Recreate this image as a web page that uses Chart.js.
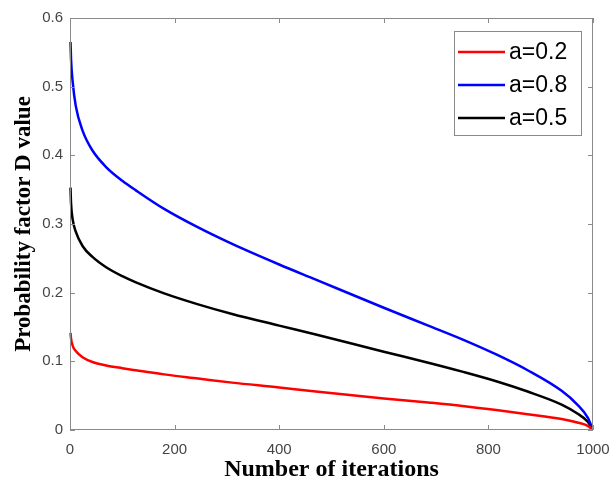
<!DOCTYPE html>
<html>
<head>
<meta charset="utf-8">
<script src="https://cdn.jsdelivr.net/npm/chart.js@4.4.1/dist/chart.umd.min.js"></script>
<style>
  html, body { margin: 0; padding: 0; background: #fff; }
</style>
</head>
<body>
<canvas id="chart1" width="611" height="485"></canvas>
<script>
// Values
const iterations = [1, 2, 5, 11, 24, 43, 69, 100, 126, 180, 245, 310, 400, 470, 600, 685, 750, 815, 875, 940, 970, 990, 1000]
const dA02 = [0.1415, 0.133, 0.123, 0.115, 0.106, 0.099, 0.094, 0.090, 0.087, 0.081, 0.075, 0.069, 0.062, 0.056, 0.046, 0.040, 0.035, 0.029, 0.023, 0.016, 0.011, 0.006, 0]
const dA08 = [0.565, 0.540, 0.508, 0.472, 0.436, 0.407, 0.383, 0.363, 0.349, 0.322, 0.295, 0.271, 0.241, 0.219, 0.178, 0.152, 0.132, 0.110, 0.087, 0.057, 0.037, 0.018, 0]
const dA05 = [0.353, 0.330, 0.307, 0.289, 0.268, 0.252, 0.237, 0.224, 0.215, 0.199, 0.183, 0.169, 0.152, 0.139, 0.114, 0.098, 0.085, 0.071, 0.056, 0.037, 0.024, 0.012, 0]
const seriesLabels = ['a=0.2', 'a=0.8', 'a=0.5']
const xTickStep = 200
const yTickStep = 0.1

function toPoints(values) {
    return iterations.map((x, i) => ({ x: x, y: values[i] }))
}

function makeSet(label, values, color) {
    return {
        label: label,
        data: toPoints(values),
        borderColor: color,
        backgroundColor: color,
        borderWidth: 2.5,
        pointRadius: 0,
        cubicInterpolationMode: 'monotone',
        clip: false
    }
}

// MATLAB style box with inward ticks on all four sides
const axesBox = {
    id: 'axesBox',
    afterDatasetsDraw(chart) {
        const { ctx, chartArea: a, scales } = chart
        ctx.save()
        ctx.strokeStyle = '#8a8a8a'
        ctx.lineWidth = 1
        ctx.strokeRect(a.left + 0.5, a.top + 0.5, a.right - a.left - 1, a.bottom - a.top - 1)
        ctx.beginPath()
        scales.x.ticks.forEach(t => {
            const px = Math.round(scales.x.getPixelForValue(t.value)) + 0.5
            ctx.moveTo(px, a.bottom); ctx.lineTo(px, a.bottom - 5)
            ctx.moveTo(px, a.top); ctx.lineTo(px, a.top + 5)
        })
        scales.y.ticks.forEach(t => {
            const py = Math.round(scales.y.getPixelForValue(t.value)) + 0.5
            ctx.moveTo(a.left, py); ctx.lineTo(a.left + 5, py)
            ctx.moveTo(a.right, py); ctx.lineTo(a.right - 5, py)
        })
        ctx.stroke()
        ctx.restore()
    }
}

// Legend box in the top right corner of the plot
const boxLegend = {
    id: 'boxLegend',
    afterDraw(chart) {
        const { ctx, chartArea: a } = chart
        const w = 127, h = 104
        const left = a.right - 139, top = a.top + 13
        ctx.save()
        ctx.fillStyle = '#fff'
        ctx.fillRect(left, top, w, h)
        ctx.strokeStyle = '#8a8a8a'
        ctx.lineWidth = 1
        ctx.strokeRect(left + 0.5, top + 0.5, w, h)
        ctx.font = '23px "Liberation Sans", Arial, sans-serif'
        ctx.textBaseline = 'middle'
        chart.data.datasets.forEach((ds, i) => {
            const yy = top + 21 + i * 33
            ctx.strokeStyle = ds.borderColor
            ctx.lineWidth = 2.5
            ctx.beginPath()
            ctx.moveTo(left + 4, yy)
            ctx.lineTo(left + 51, yy)
            ctx.stroke()
            ctx.fillStyle = '#000'
            ctx.fillText(ds.label, left + 55, yy + 1)
        })
        ctx.restore()
    }
}

const ctx = document.getElementById('chart1').getContext('2d')

const chart1 = new Chart(ctx, {
    type: 'line',
    data: {
        datasets: [
            makeSet(seriesLabels[0], dA02, '#ff0000'),
            makeSet(seriesLabels[1], dA08, '#0000ff'),
            makeSet(seriesLabels[2], dA05, '#000000')
        ]
    },
    options: {
        responsive: false,
        animation: false,
        layout: { padding: { top: 18, right: 18, left: 0, bottom: 0 } },
        plugins: {
            legend: { display: false },
            tooltip: { enabled: false }
        },
        scales: {
            x: {
                type: 'linear',
                min: 0,
                max: 1000,
                grid: { display: false, drawTicks: false },
                border: { display: false },
                ticks: {
                    stepSize: xTickStep,
                    padding: 11,
                    maxRotation: 0,
                    color: '#454545',
                    font: { family: '"Liberation Sans", Arial, sans-serif', size: 15 },
                    callback: v => String(v)
                },
                title: {
                    display: true,
                    text: 'Number of iterations',
                    color: '#000',
                    padding: { top: 0, bottom: 1 },
                    font: { family: '"Liberation Serif", "Times New Roman", serif', size: 24, weight: 'bold' }
                },
                afterFit(scale) {
                    scale.height = 55
                    scale.paddingLeft = 0
                    scale.paddingRight = 0
                }
            },
            y: {
                min: 0,
                max: 0.6,
                grid: { display: false, drawTicks: false },
                border: { display: false },
                ticks: {
                    stepSize: yTickStep,
                    padding: 7,
                    color: '#454545',
                    font: { family: '"Liberation Sans", Arial, sans-serif', size: 15 },
                    callback: v => String(+v.toFixed(1))
                },
                title: {
                    display: true,
                    text: 'Probability factor D value',
                    color: '#000',
                    padding: { top: 10, bottom: 0 },
                    font: { family: '"Liberation Serif", "Times New Roman", serif', size: 23, weight: 'bold' }
                },
                afterFit(scale) {
                    scale.width = 70
                    scale.paddingTop = 0
                    scale.paddingBottom = 0
                }
            }
        }
    },
    plugins: [axesBox, boxLegend]
})
</script>
</body>
</html>
